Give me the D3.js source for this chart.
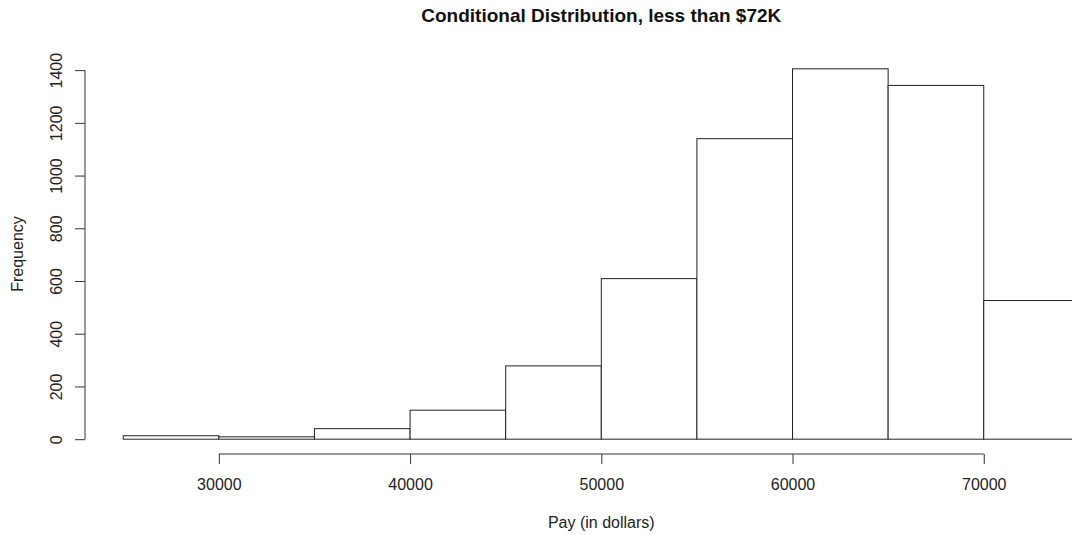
<!DOCTYPE html>
<html>
<head>
<meta charset="utf-8">
<script src="https://cdn.jsdelivr.net/npm/d3@7"></script>
<style>
  body { margin: 0; background: #fff; }
  svg { display: block; font-family: 'Liberation Sans', Arial, sans-serif; }
</style>
</head>
<body>
<div id="chart"></div>
<script>
// histogram bins (lower edges) and counts
const binStarts = [25000, 30000, 35000, 40000, 45000, 50000, 55000, 60000, 65000, 70000];
const binWidth = 5000;
const counts = [13, 9, 40, 110, 278, 609, 1140, 1405, 1342, 526];
const xTicks = [30000, 40000, 50000, 60000, 70000];
const yTicks = [0, 200, 400, 600, 800, 1000, 1200, 1400];

const title = 'Conditional Distribution, less than $72K';
const xLabel = 'Pay (in dollars)';
const yLabel = 'Frequency';

const CONFIG = {
  width: 1072,
  height: 535,
  plot: { left: 85, right: 1117.6, top: 54, bottom: 454 },
  pad: 0.04,        // R style axis expansion
  tickLength: 10,
  fontSize: 16,
  titleSize: 19,
  stroke: '#222',
  axisStroke: '#333'
};

const bins = binStarts.map((x0, i) => ({ x0, x1: x0 + binWidth, count: counts[i] }));

const expand = ([a, b], p) => [a - (b - a) * p, b + (b - a) * p];

const { width, height, plot, tickLength, fontSize } = CONFIG;

const x = d3.scaleLinear()
  .domain(expand([d3.min(bins, d => d.x0), d3.max(bins, d => d.x1)], CONFIG.pad))
  .range([plot.left, plot.right]);

const y = d3.scaleLinear()
  .domain(expand([0, d3.max(counts)], CONFIG.pad))
  .range([plot.bottom, plot.top]);

const svg = d3.select('#chart').append('svg')
  .attr('width', width)
  .attr('height', height);

// bars
svg.append('g').selectAll('rect')
  .data(bins)
  .enter().append('rect')
  .attr('x', d => x(d.x0))
  .attr('y', d => y(d.count))
  .attr('width', d => x(d.x1) - x(d.x0))
  .attr('height', d => y(0) - y(d.count))
  .attr('fill', '#fff')
  .attr('stroke', CONFIG.stroke)
  .attr('stroke-width', 1);

// x axis (line only spans the ticks, like base R)
const xAxis = d3.axisBottom(x)
  .tickValues(xTicks)
  .tickFormat(d => d)
  .tickSizeInner(tickLength)
  .tickSizeOuter(0)
  .tickPadding(15);

const $xAxis = svg.append('g')
  .attr('transform', `translate(0, ${plot.bottom})`)
  .call(xAxis);
$xAxis.select('.domain').remove();
$xAxis.append('line')
  .attr('x1', x(xTicks[0]))
  .attr('x2', x(xTicks[xTicks.length - 1]))
  .attr('stroke', CONFIG.axisStroke);

// y axis
const yAxis = d3.axisLeft(y)
  .tickValues(yTicks)
  .tickFormat(d => d)
  .tickSizeInner(tickLength)
  .tickSizeOuter(0);

const $yAxis = svg.append('g')
  .attr('transform', `translate(${plot.left}, 0)`)
  .call(yAxis);
$yAxis.select('.domain').remove();
$yAxis.append('line')
  .attr('y1', y(yTicks[0]))
  .attr('y2', y(yTicks[yTicks.length - 1]))
  .attr('stroke', CONFIG.axisStroke);
$yAxis.selectAll('.tick text')
  .attr('x', null).attr('dy', null)
  .attr('text-anchor', 'middle')
  .attr('transform', 'translate(-23, 0) rotate(-90)');

[$xAxis, $yAxis].forEach(($a) => {
  $a.selectAll('.tick line').attr('stroke', CONFIG.axisStroke);
  $a.selectAll('.tick text')
    .attr('fill', '#222')
    .style('font-size', fontSize + 'px')
    .style('font-family', "'Liberation Sans', Arial, sans-serif");
});

// titles
const plotCenter = (plot.left + plot.right) / 2;

svg.append('text')
  .attr('x', plotCenter)
  .attr('y', 22)
  .attr('text-anchor', 'middle')
  .style('font-weight', 'bold')
  .style('font-size', CONFIG.titleSize + 'px')
  .attr('fill', '#111')
  .text(title);

svg.append('text')
  .attr('x', plotCenter)
  .attr('y', 528)
  .attr('text-anchor', 'middle')
  .style('font-size', fontSize + 'px')
  .attr('fill', '#222')
  .text(xLabel);

svg.append('text')
  .attr('transform', `translate(23, ${(plot.top + plot.bottom) / 2}) rotate(-90)`)
  .attr('text-anchor', 'middle')
  .style('font-size', fontSize + 'px')
  .attr('fill', '#222')
  .text(yLabel);
</script>
</body>
</html>
